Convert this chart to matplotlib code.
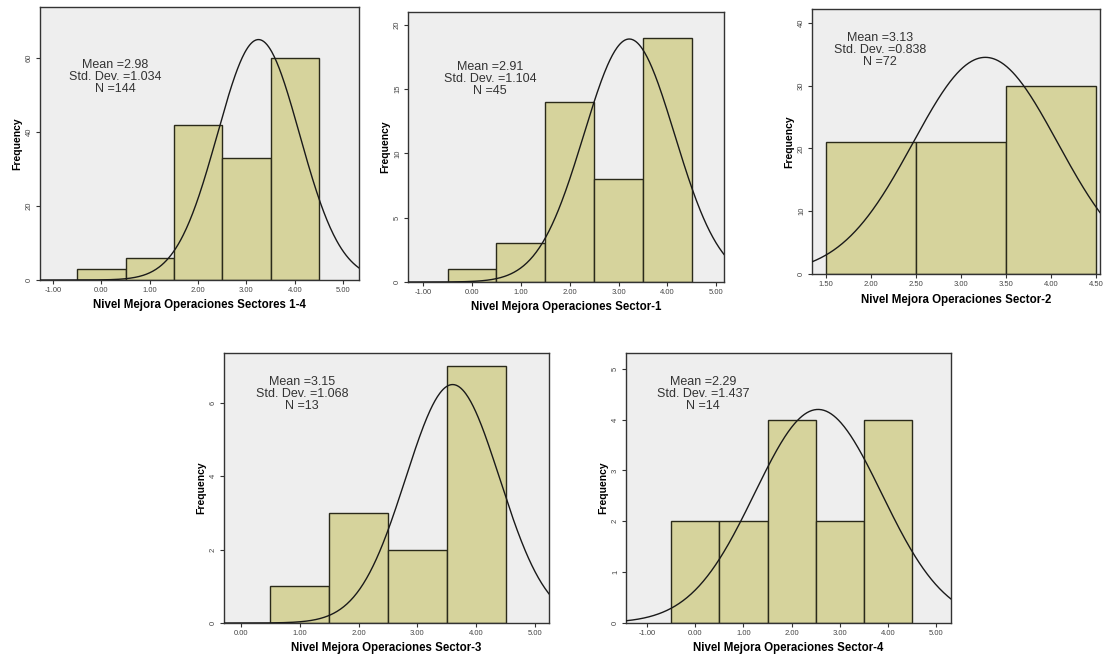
import numpy as np
import matplotlib
matplotlib.use('Agg')
import matplotlib.pyplot as plt

plt.rcParams['font.family'] = ['Liberation Sans', 'DejaVu Sans']

# Panel data (bin centres, counts, bin width 1)
titles = ['Nivel Mejora Operaciones Sectores 1-4',
          'Nivel Mejora Operaciones Sector-1',
          'Nivel Mejora Operaciones Sector-2',
          'Nivel Mejora Operaciones Sector-3',
          'Nivel Mejora Operaciones Sector-4']
centres = [[0, 1, 2, 3, 4],
           [0, 1, 2, 3, 4],
           [2, 3, 4],
           [1, 2, 3, 4],
           [0, 1, 2, 3, 4]]
counts = [[3, 6, 42, 33, 60],
          [1, 3, 14, 8, 19],
          [21, 21, 30],
          [1, 3, 2, 7],
          [2, 2, 4, 2, 4]]
means = ['2.98', '2.91', '3.13', '3.15', '2.29']
sds = ['1.034', '1.104', '0.838', '1.068', '1.437']
ns = ['144', '45', '72', '13', '14']

# normal curve as drawn (centre, spread, peak height)
curve_mu = [3.25, 3.22, 3.27, 3.6, 2.55]
curve_sd = [0.85, 0.93, 0.80, 0.80, 1.32]
curve_peak = [65, 18.9, 34.5, 6.5, 4.2]

xlims = [(-1.27, 5.33), (-1.31, 5.16), (1.35, 4.54), (-0.29, 5.24), (-1.44, 5.31)]
ylims = [(0, 73.8), (0, 21.0), (0, 42.2), (0, 7.36), (0, 5.31)]
xticks = [np.arange(-1, 5.01, 1), np.arange(-1, 5.01, 1), np.arange(1.5, 4.51, 0.5),
          np.arange(0, 5.01, 1), np.arange(-1, 5.01, 1)]
yticks = [[0, 20, 40, 60], [0, 5, 10, 15, 20], [0, 10, 20, 30, 40], [0, 2, 4, 6], [0, 1, 2, 3, 4, 5]]

# axes boxes in pixels: left, top, right, bottom
W, H = 1113, 661
boxes = [(40, 7, 359, 280), (408, 12, 724, 282), (812, 9, 1100, 274),
         (224, 353, 549, 623), (626, 353, 951, 623)]
# stats text anchor (axes fraction, top of first line)
text_x = [0.235, 0.26, 0.237, 0.24, 0.237]
text_y = [0.81, 0.82, 0.915, 0.915, 0.915]

fig = plt.figure(figsize=(W / 100, H / 100), dpi=100)
fig.patch.set_facecolor('white')

for i in range(5):
    l, t, r, b = boxes[i]
    ax = fig.add_axes([l / W, 1 - b / H, (r - l) / W, (b - t) / H])
    ax.set_facecolor('#eeeeee')
    ax.bar(centres[i], counts[i], width=1.0, color='#d6d39c',
           edgecolor='#2a2a1a', linewidth=1.0, zorder=2)
    x = np.linspace(xlims[i][0], xlims[i][1], 400)
    y = curve_peak[i] * np.exp(-0.5 * ((x - curve_mu[i]) / curve_sd[i]) ** 2)
    ax.plot(x, y, color='#1a1a1a', linewidth=1.0, zorder=3)
    ax.set_xlim(*xlims[i])
    ax.set_ylim(*ylims[i])
    ax.set_xticks(xticks[i])
    ax.set_xticklabels(['%.2f' % v for v in xticks[i]], fontsize=5.5, color='#444444')
    ax.set_yticks(yticks[i])
    ax.set_yticklabels([str(v) for v in yticks[i]], fontsize=5.5, color='#444444',
                       rotation=90, va='center')
    ax.tick_params(direction='out', length=3, width=0.8, pad=2, color='#333333')
    for s in ax.spines.values():
        s.set_color('#333333')
        s.set_linewidth(1.0)
    ax.set_xlabel(titles[i], fontsize=8.3, fontweight='bold', labelpad=4)
    ax.set_ylabel('Frequency', fontsize=7.5, fontweight='bold', labelpad=3)
    ax.text(text_x[i], text_y[i], 'Mean =%s\nStd. Dev. =%s\nN =%s' % (means[i], sds[i], ns[i]),
            transform=ax.transAxes, ha='center', va='top', fontsize=9,
            color='#333333', linespacing=1.0, zorder=4)

fig.savefig('out.png', dpi=100)
